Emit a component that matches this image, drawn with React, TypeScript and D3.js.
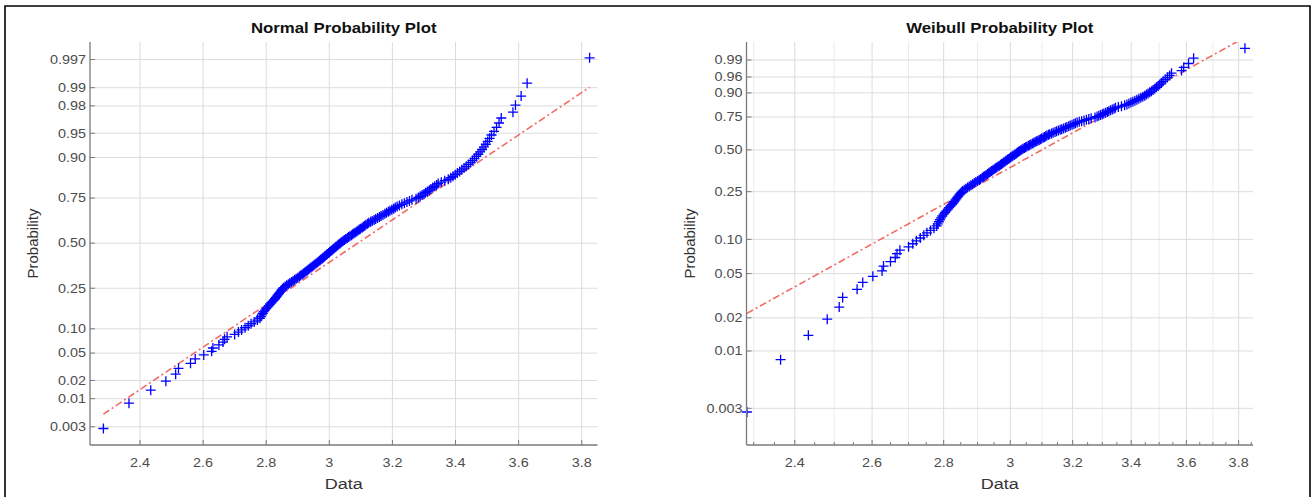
import React from 'react';
import * as d3 from 'd3';

// sorted sample (n = 180)
const sampleData = [
  2.284, 2.365, 2.434, 2.482, 2.513, 2.522, 2.560, 2.575, 2.602, 2.627,
  2.631, 2.650, 2.663, 2.668, 2.676, 2.700, 2.712, 2.722, 2.733, 2.743,
  2.752, 2.762, 2.772, 2.780, 2.783, 2.786, 2.789, 2.792, 2.796, 2.800,
  2.804, 2.808, 2.812, 2.816, 2.820, 2.824, 2.828, 2.831, 2.834, 2.837,
  2.840, 2.843, 2.846, 2.849, 2.852, 2.855, 2.860, 2.865, 2.870, 2.875,
  2.880, 2.885, 2.890, 2.895, 2.900, 2.905, 2.909, 2.914, 2.918, 2.922,
  2.926, 2.930, 2.934, 2.938, 2.942, 2.946, 2.950, 2.954, 2.958, 2.962,
  2.966, 2.970, 2.973, 2.977, 2.980, 2.984, 2.987, 2.991, 2.994, 2.998,
  3.001, 3.005, 3.008, 3.012, 3.015, 3.019, 3.022, 3.026, 3.029, 3.033,
  3.036, 3.040, 3.044, 3.048, 3.052, 3.057, 3.061, 3.065, 3.070, 3.074,
  3.078, 3.082, 3.087, 3.091, 3.095, 3.099, 3.104, 3.108, 3.112, 3.116,
  3.121, 3.125, 3.131, 3.136, 3.142, 3.147, 3.153, 3.159, 3.164, 3.170,
  3.176, 3.181, 3.187, 3.192, 3.198, 3.204, 3.209, 3.215, 3.222, 3.230,
  3.238, 3.246, 3.254, 3.262, 3.275, 3.282, 3.288, 3.294, 3.300, 3.305,
  3.311, 3.317, 3.322, 3.328, 3.334, 3.340, 3.345, 3.355, 3.366, 3.377,
  3.385, 3.392, 3.399, 3.406, 3.413, 3.420, 3.427, 3.434, 3.441, 3.448,
  3.454, 3.460, 3.466, 3.472, 3.478, 3.484, 3.490, 3.496, 3.502, 3.508,
  3.514, 3.522, 3.530, 3.538, 3.545, 3.582, 3.590, 3.608, 3.627, 3.825,
];

const xTicks = [2.4, 2.6, 2.8, 3, 3.2, 3.4, 3.6, 3.8];
const normalProbTicks = [0.003, 0.01, 0.02, 0.05, 0.1, 0.25, 0.5, 0.75, 0.9, 0.95, 0.98, 0.99, 0.997];
const normalProbLabels = ['0.003', '0.01', '0.02', '0.05', '0.10', '0.25', '0.50', '0.75', '0.90', '0.95', '0.98', '0.99', '0.997'];
const weibullProbTicks = [0.003, 0.01, 0.02, 0.05, 0.1, 0.25, 0.5, 0.75, 0.9, 0.96, 0.99];
const weibullProbLabels = ['0.003', '0.01', '0.02', '0.05', '0.10', '0.25', '0.50', '0.75', '0.90', '0.96', '0.99'];

// reference lines
const normalMu = 3.09;
const normalSigma = 0.315;
const weibullScale = 3.202;
const weibullShape = 11.27;

const FONT = '"Liberation Sans", Arial, Helvetica, sans-serif';
const SX = 1.2; // text in the picture is a bit wide

function normInv(p: number) {
  const a = [-39.69683028665376, 220.9460984245205, -275.9285104469687, 138.357751867269, -30.66479806614716, 2.506628277459239];
  const b = [-54.47609879822406, 161.5858368580409, -155.6989798598866, 66.80131188771972, -13.28068155288572];
  const c = [-0.007784894002430293, -0.3223964580411365, -2.400758277161838, -2.549732539343734, 4.374664141464968, 2.938163982698783];
  const d = [0.007784695709041462, 0.3224671290700398, 2.445134137142996, 3.754408661907416];
  const plow = 0.02425;
  if (p < plow) {
    const q = Math.sqrt(-2 * Math.log(p));
    return (((((c[0] * q + c[1]) * q + c[2]) * q + c[3]) * q + c[4]) * q + c[5]) /
      ((((d[0] * q + d[1]) * q + d[2]) * q + d[3]) * q + 1);
  }
  if (p <= 1 - plow) {
    const q = p - 0.5;
    const r = q * q;
    return (((((a[0] * r + a[1]) * r + a[2]) * r + a[3]) * r + a[4]) * r + a[5]) * q /
      (((((b[0] * r + b[1]) * r + b[2]) * r + b[3]) * r + b[4]) * r + 1);
  }
  const q = Math.sqrt(-2 * Math.log(1 - p));
  return -(((((c[0] * q + c[1]) * q + c[2]) * q + c[3]) * q + c[4]) * q + c[5]) /
    ((((d[0] * q + d[1]) * q + d[2]) * q + d[3]) * q + 1);
}

const weibullT = (p: number) => Math.log(-Math.log(1 - p));

const T = ({ x, y, anchor = 'middle', size = 12, fill = '#4d4d4d', weight = 'normal', sx = SX, children }: any) => (
  <text
    transform={`translate(${x},${y}) scale(${sx},1)`}
    textAnchor={anchor}
    fontFamily={FONT}
    fontSize={size}
    fontWeight={weight}
    fill={fill}
  >
    {children}
  </text>
);

const top = 42;
const bottom = 445;

const Panel = ({ id, title, x0, x1, xScale, yScale, probT, probTicks, probLabels, minorGrid, minorX, fitLine }: any) => {
  const n = sampleData.length;
  const pts = sampleData.map((v, i) => [xScale(v), yScale(probT((i + 0.5) / n))]);
  const line = d3.line()(fitLine);
  const cx = (x0 + x1) / 2;
  return (
    <g>
      <defs>
        <clipPath id={id}>
          <rect x={x0} y={top} width={x1 - x0} height={bottom - top} />
        </clipPath>
      </defs>
      {/* grid */}
      {minorGrid.map((t: number) => (
        <line key={'m' + t} x1={xScale(t)} x2={xScale(t)} y1={top} y2={bottom} stroke="#ececec" strokeWidth={1} />
      ))}
      {xTicks.map((t) => (
        <line key={'gx' + t} x1={xScale(t)} x2={xScale(t)} y1={top} y2={bottom} stroke="#dcdcdc" strokeWidth={1} />
      ))}
      {probTicks.map((p: number) => (
        <line key={'gy' + p} x1={x0} x2={x1} y1={yScale(probT(p))} y2={yScale(probT(p))} stroke="#dcdcdc" strokeWidth={1} />
      ))}
      {/* fit line */}
      <path d={line || ''} clipPath={`url(#${id})`} fill="none" stroke="#f0504a" strokeWidth={1.6}
        strokeDasharray="7,3,2,3" opacity={0.85} />
      {/* data */}
      {pts.map(([px, py], i) => (
        <path key={i} d={`M${px - 5},${py}H${px + 5}M${px},${py - 5}V${py + 5}`} stroke="#0000ff" strokeWidth={1.3} fill="none" />
      ))}
      {/* axes */}
      <line x1={x0} x2={x0} y1={top} y2={bottom} stroke="#7a7a7a" strokeWidth={1.3} />
      <line x1={x0} x2={x1} y1={bottom} y2={bottom} stroke="#7a7a7a" strokeWidth={1.3} />
      {minorX.map((t: number) => (
        <line key={'mt' + t} x1={xScale(t)} x2={xScale(t)} y1={bottom} y2={bottom - 3} stroke="#7a7a7a" strokeWidth={1} />
      ))}
      {xTicks.map((t) => (
        <g key={'xt' + t}>
          <line x1={xScale(t)} x2={xScale(t)} y1={bottom} y2={bottom - 5} stroke="#7a7a7a" strokeWidth={1} />
          <T x={xScale(t)} y={467}>{String(t)}</T>
        </g>
      ))}
      {probTicks.map((p: number, i: number) => (
        <g key={'yt' + p}>
          <line x1={x0} x2={x0 + 5} y1={yScale(probT(p))} y2={yScale(probT(p))} stroke="#7a7a7a" strokeWidth={1} />
          <T x={x0 - 4} y={yScale(probT(p)) + 4.3} anchor="end">{probLabels[i]}</T>
        </g>
      ))}
      <T x={cx} y={33} size={14} weight="bold" fill="#111">{title}</T>
      <T x={cx} y={489} size={15} fill="#333">Data</T>
      <text transform={`translate(${x0 - 52},${(top + bottom) / 2}) rotate(-90)`} textAnchor="middle"
        fontFamily={FONT} fontSize={15} fill="#333">Probability</text>
    </g>
  );
};

export default function App() {
  const lo = d3.min(sampleData) as number;
  const hi = d3.max(sampleData) as number;

  const xLeft = d3.scaleLinear().domain([2.2415, 3.85]).range([90, 597.5]);
  const yLeft = d3.scaleLinear().domain([-3.02, 3.01]).range([bottom, top]);
  const normalFit = [lo, hi].map((v) => [xLeft(v), yLeft((v - normalMu) / normalSigma)] as [number, number]);

  const xRight = d3.scaleLog().domain([2.283, 3.857]).range([746.5, 1253]);
  const yRight = d3.scaleLinear().domain([-6.58, 1.906]).range([bottom, top]);
  const weibullFit = [lo, hi].map((v) => [xRight(v), yRight(weibullShape * (Math.log(v) - Math.log(weibullScale)))] as [number, number]);
  const notMajor = (v: number) => !xTicks.some((t) => Math.abs(t - v) < 1e-6);
  const minorTicksRight = d3.range(2.3, 3.86, 0.05).map((v) => Math.round(v * 100) / 100).filter(notMajor);
  const minorGridRight = d3.range(2.3, 3.86, 0.1).map((v) => Math.round(v * 10) / 10).filter(notMajor);

  return (
    <svg width={1315} height={497} style={{ position: 'absolute', left: 0, top: 0, background: '#fff' }}>
      <rect x={0} y={0} width={1315} height={497} fill="#fff" />
      <path d="M5,497V6H1310V497" fill="none" stroke="#000" strokeWidth={1.6} />
      <Panel id="clipN" title="Normal Probability Plot" x0={90} x1={597.5} xScale={xLeft} yScale={yLeft}
        probT={normInv} probTicks={normalProbTicks} probLabels={normalProbLabels} minorGrid={[]} minorX={[]} fitLine={normalFit} />
      <Panel id="clipW" title="Weibull Probability Plot" x0={746.5} x1={1253} xScale={xRight} yScale={yRight}
        probT={weibullT} probTicks={weibullProbTicks} probLabels={weibullProbLabels} minorGrid={minorGridRight}
        minorX={minorTicksRight} fitLine={weibullFit} />
    </svg>
  );
}
